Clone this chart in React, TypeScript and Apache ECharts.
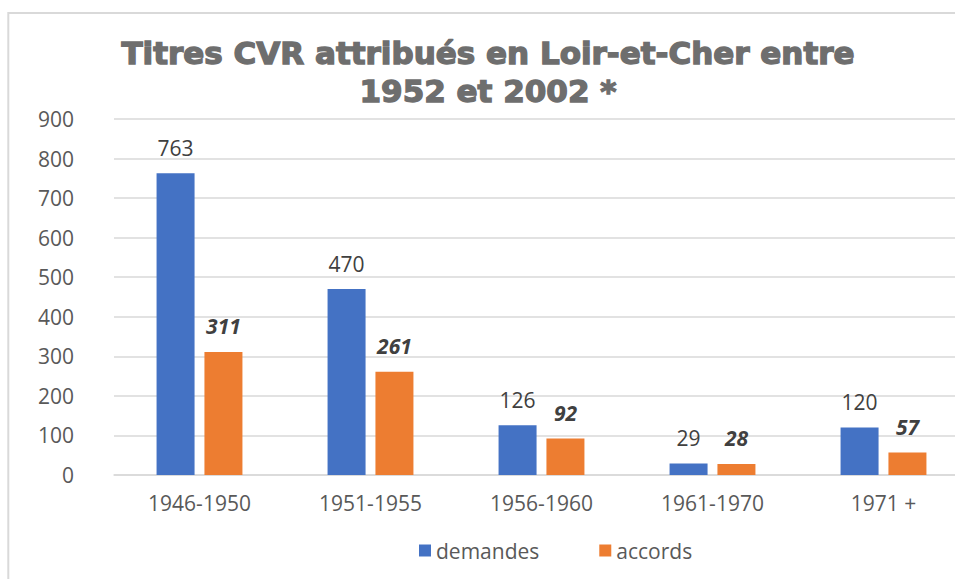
import React, { useEffect, useRef } from "react";
import * as echarts from "echarts";

const categories = ["1946-1950", "1951-1955", "1956-1960", "1961-1970", "1971 +"];
const demandes = [763, 470, 126, 29, 120];
const accords = [311, 261, 92, 28, 57];
const seriesNames = ["demandes", "accords"];
const titleText = "Titres CVR attribués en Loir-et-Cher entre\n1952 et 2002 *";

const FONT = "'Open Sans', 'Noto Sans', sans-serif";

export default function App() {
  const ref = useRef<HTMLDivElement>(null);
  useEffect(() => {
    if (!ref.current) return;
    const chart = echarts.init(ref.current, undefined, { renderer: "svg" });
    chart.setOption({
      animation: false,
      backgroundColor: "#ffffff",
      title: {
        text: titleText,
        left: "center",
        top: 29,
        textStyle: {
          fontFamily: "'DejaVu Sans', sans-serif",
          fontWeight: 900,
          fontSize: 31,
          lineHeight: 38,
          color: "#6e6e6e",
          textBorderColor: "#6e6e6e",
          textBorderWidth: 1.4,
        },
      },
      graphic: [
        {
          type: "rect",
          shape: { x: 8.3, y: 13, width: 2000, height: 2000 },
          style: { fill: "none", stroke: "#d9d9d9", lineWidth: 2 },
          silent: true,
          z: -1,
        },
      ],
      legend: {
        data: seriesNames,
        left: 414,
        top: 535,
        itemGap: 60,
        itemWidth: 12,
        itemHeight: 12,
        icon: "rect",
        textStyle: { fontFamily: FONT, fontSize: 21, color: "#595959" },
      },
      grid: { left: 114, right: 7, top: 119, bottom: 125, containLabel: false },
      xAxis: {
        type: "category",
        data: categories,
        axisLine: { lineStyle: { color: "#d9d9d9", width: 1.5 } },
        axisTick: { show: false },
        axisLabel: { fontFamily: FONT, fontSize: 21, color: "#595959", margin: 17 },
      },
      yAxis: {
        type: "value",
        min: 0,
        max: 900,
        interval: 100,
        axisLine: { show: false },
        axisTick: { show: false },
        splitLine: { lineStyle: { color: "#d9d9d9", width: 1.5 } },
        axisLabel: { fontFamily: FONT, fontSize: 21, color: "#595959", margin: 40 },
      },
      series: [
        {
          name: seriesNames[0],
          type: "bar",
          data: demandes,
          barWidth: 38,
          barGap: "26%",
          itemStyle: { color: "#4472c4" },
          label: {
            show: true,
            position: "top",
            distance: 15,
            fontFamily: FONT,
            fontSize: 21,
            color: "#404040",
          },
        },
        {
          name: seriesNames[1],
          type: "bar",
          data: accords,
          barWidth: 38,
          itemStyle: { color: "#ed7d31" },
          label: {
            show: true,
            position: "top",
            distance: 15,
            fontFamily: FONT,
            fontSize: 21,
            fontWeight: "bold",
            fontStyle: "italic",
            color: "#404040",
          },
        },
      ],
    });
    return () => chart.dispose();
  }, []);
  return (
    <div
      style={{
        position: "fixed",
        left: 0,
        top: 0,
        width: 955,
        height: 579,
        overflow: "hidden",
        background: "#ffffff",
      }}
    >
      <div ref={ref} style={{ width: 976, height: 600 }} />
    </div>
  );
}
